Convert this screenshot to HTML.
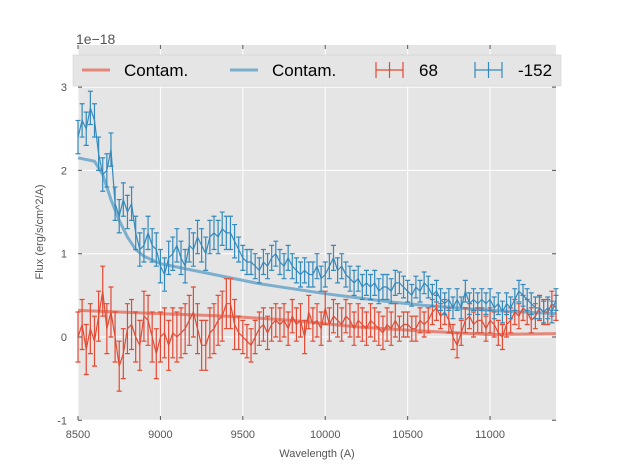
<!DOCTYPE html>
<html><head><meta charset="utf-8"><style>
body{margin:0;background:#fff;}
svg{font-family:"Liberation Sans",sans-serif;}
</style></head><body>
<svg id="chart" width="617" height="467" xmlns="http://www.w3.org/2000/svg">
<rect x="78" y="45" width="478" height="375" fill="#E5E5E5"/>
<g id="grid"></g>
<g id="series"></g>
<g id="ticks"></g>
<text x="76" y="44" font-size="14" fill="#555">1e−18</text>
<text x="317" y="457" font-size="11" fill="#555" text-anchor="middle">Wavelength (A)</text>
<text transform="translate(43,232) rotate(-90)" font-size="11" fill="#555" text-anchor="middle">Flux (erg/s/cm^2/A)</text>
<g>
<rect x="73" y="55" width="488" height="31" fill="#E5E5E5" stroke="#ccc" stroke-width="0.5"/>
<line x1="82" y1="70" x2="110" y2="70" stroke="#E24A33" stroke-opacity="0.6" stroke-width="3"/>
<text x="124" y="76" font-size="17">Contam.</text>
<line x1="230" y1="70" x2="258" y2="70" stroke="#348ABD" stroke-opacity="0.6" stroke-width="3"/>
<text x="272" y="76" font-size="17">Contam.</text>
<g stroke="#E24A33" stroke-width="1.2"><line x1="376" y1="70" x2="403" y2="70"/><line x1="376" y1="62" x2="376" y2="78"/><line x1="403" y1="62" x2="403" y2="78"/><line x1="389.5" y1="62" x2="389.5" y2="78"/></g>
<text x="419" y="76" font-size="17">68</text>
<g stroke="#348ABD" stroke-width="1.2"><line x1="475" y1="70" x2="502" y2="70"/><line x1="475" y1="62" x2="475" y2="78"/><line x1="502" y1="62" x2="502" y2="78"/><line x1="488.5" y1="62" x2="488.5" y2="78"/></g>
<text x="518" y="76" font-size="17">-152</text>
</g>
</svg>
<script>
const xTicks=[8500,9000,9500,10000,10500,11000];
const yTicks=[-1,0,1,2,3];
const blueFlux=[2.4,2.6,2.5,2.75,2.6,2.2,1.95,2.0,2.25,1.6,1.45,1.65,1.5,1.6,1.25,1.05,1.1,1.25,1.1,1.05,0.85,0.75,0.95,1.0,1.1,0.95,0.85,1.1,1.05,1.2,1.1,1.0,1.2,1.25,1.2,1.3,1.25,1.25,1.15,1.05,0.95,0.9,0.9,0.85,0.8,0.9,0.85,0.95,1.0,0.9,0.85,0.95,0.85,0.8,0.75,0.8,0.75,0.75,0.85,0.7,0.75,0.85,0.95,0.8,0.85,0.75,0.7,0.65,0.7,0.6,0.65,0.6,0.65,0.55,0.6,0.6,0.55,0.65,0.65,0.6,0.55,0.5,0.6,0.55,0.65,0.6,0.5,0.55,0.45,0.4,0.45,0.35,0.45,0.35,0.55,0.4,0.45,0.4,0.45,0.4,0.45,0.35,0.4,0.3,0.4,0.35,0.45,0.55,0.5,0.45,0.4,0.35,0.35,0.3,0.35,0.3,0.45];
const redFlux=[0.0,0.15,-0.15,0.1,-0.05,0.25,0.55,0.1,0.3,0.0,-0.35,-0.2,0.1,0.15,0.0,-0.1,0.25,0.2,0.0,-0.2,0.0,0.05,-0.1,0.05,0.0,0.05,0.1,0.2,0.3,0.1,-0.1,-0.1,0.05,0.1,0.2,0.25,0.4,0.4,0.15,0.05,0.0,-0.05,-0.1,0.0,0.1,0.15,0.05,0.15,0.2,0.15,0.2,0.1,0.25,0.15,0.2,0.0,0.3,0.15,0.2,0.1,0.35,0.15,0.25,0.2,0.15,0.25,0.2,0.1,0.2,0.15,0.1,0.2,0.15,0.1,0.05,0.15,0.1,0.2,0.1,0.15,0.15,0.1,0.1,0.2,0.15,0.2,0.3,0.35,0.25,0.3,0.2,0.0,-0.1,0.05,0.2,0.25,0.15,0.2,0.2,0.1,0.2,0.15,0.05,0.0,0.15,0.2,0.3,0.25,0.35,0.3,0.2,0.25,0.35,0.3,0.3,0.4,0.35];
const blueErrByThird=[0.2,0.15,0.13];
const redErrByThird=[0.3,0.2,0.15];
const contamBlueWave=[8500,8550,8600,8650,8700,8750,8800,8850,8900,9000,9100,9200,9400,9600,9800,10000,10200,10400,10600,10800,11000,11200,11400];
const contamBlueFlux=[2.15,2.13,2.11,1.95,1.65,1.4,1.2,1.05,0.97,0.88,0.84,0.8,0.72,0.64,0.58,0.52,0.47,0.42,0.38,0.35,0.32,0.3,0.28];
const contamRedWave=[8500,9000,9400,9800,10200,10600,11000,11400];
const contamRedFlux=[0.32,0.28,0.25,0.2,0.12,0.07,0.03,0.04];
const W0=8500,W1=11400;
const NS="http://www.w3.org/2000/svg";
function X(w){return 78+(w-8500)*(478/2900);}
function Y(v){return 337-v*83.3;}
function mk(tag,attrs,parent){const e=document.createElementNS(NS,tag);for(const k in attrs)e.setAttribute(k,attrs[k]);parent.appendChild(e);return e;}
const grid=document.getElementById('grid'),ser=document.getElementById('series'),tk=document.getElementById('ticks');
xTicks.forEach(t=>{
 const l=mk('line',{x1:X(t),x2:X(t),y1:45,y2:420,stroke:'#fff','stroke-width':1},grid);
 
 
 const m=mk('path',{d:`M${X(t)},420v-4M${X(t)},45v4`,stroke:'#555','stroke-width':1},tk);
 
 
 const tx=mk('text',{x:X(t),y:438,'font-size':11,fill:'#555','text-anchor':'middle'},tk);
 tx.textContent=t;
 
 
});
yTicks.forEach(t=>{
 const l=mk('line',{x1:78,x2:556,y1:Y(t),y2:Y(t),stroke:'#fff','stroke-width':1},grid);
 
 
 const m=mk('path',{d:`M78,${Y(t)}h4M556,${Y(t)}h-4`,stroke:'#555','stroke-width':1},tk);
 
 
 const tx=mk('text',{x:67,y:Y(t)+4,'font-size':11,fill:'#555','text-anchor':'end'},tk);
 tx.textContent=t;
 
 
});
function line(ws,vs,color,op,w,name){
 const p=mk('polyline',{points:ws.map((x,i)=>X(x)+','+Y(vs[i])).join(' '),fill:'none',stroke:color,'stroke-opacity':op,'stroke-width':w},ser);
 
 
}
function errSeries(vals,errs,color,name){
 const n=vals.length;const ws=vals.map((v,i)=>W0+i*(W1-W0)/(n-1));
 const g=mk('g',{stroke:color,'stroke-width':1.2,fill:'none'},ser);
 
 
 mk('polyline',{points:ws.map((w,i)=>X(w)+','+Y(vals[i])).join(' ')},g);
 ws.forEach((w,i)=>{const err=errs[Math.min(2,Math.floor(3*i/n))];const x=X(w),a=Y(vals[i]+err),b=Y(vals[i]-err);
  const e=mk('path',{d:`M${x},${a}V${b}M${x-2.5},${a}H${x+2.5}M${x-2.5},${b}H${x+2.5}`},g);
  
  });
}
line(contamRedWave,contamRedFlux,'#E24A33',0.6,3,'contam-red-line');
line(contamBlueWave,contamBlueFlux,'#348ABD',0.6,3,'contam-blue-line');
errSeries(redFlux,redErrByThird,'#E24A33','series-68');
errSeries(blueFlux,blueErrByThird,'#348ABD','series-152');
</script>
</body></html>
